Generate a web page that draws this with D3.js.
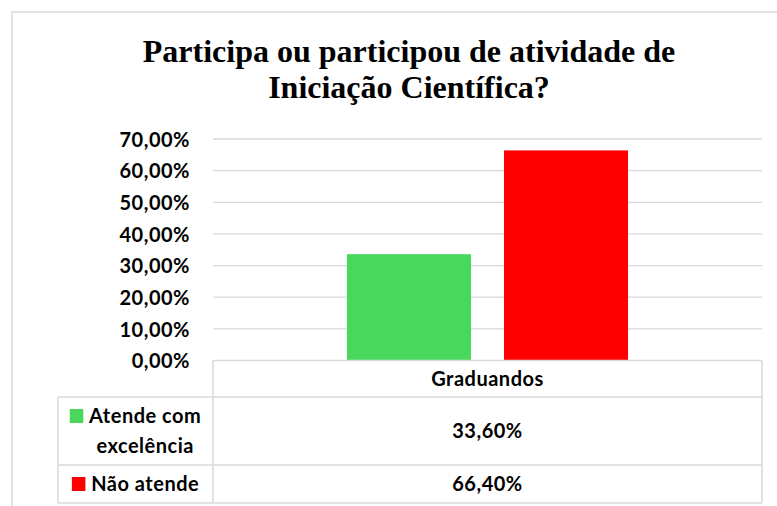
<!DOCTYPE html>
<html>
<head>
<meta charset="utf-8">
<script src="https://cdn.jsdelivr.net/npm/d3@7"></script>
<style>
  body { margin: 0; background: #fff; }
  svg { display: block; }
</style>
</head>
<body>
<div id="chart"></div>
<script>
// dados do gráfico
const categories = ['Graduandos']
const seriesNames = ['Atende com excelência', 'Não atende']
const seriesValues = [0.336, 0.664]
const seriesColors = ['#48d85c', '#ff0000']
const yTicks = [0, 0.1, 0.2, 0.3, 0.4, 0.5, 0.6, 0.7]
const titleLines = ['Participa ou participou de atividade de', 'Iniciação Científica?']

const width = 777
const height = 506
const margin = { top: 139, right: 15, bottom: 145.5, left: 213 }
const tableLeft = 58
const rowH = [36.5, 68, 38]
const grid = '#d9d9d9'
const font = 'Lato, "Noto Sans", sans-serif'
const fs = 20
const ls = 0.5

const pt = d3.formatLocale({ decimal: ',', thousands: '.', grouping: [3], currency: ['R$', ''] })
const fmt = pt.format('.2%')

const svg = d3.select('#chart').append('svg')
  .attr('width', width)
  .attr('height', height)
  .attr('viewBox', [0, 0, width, height])

// borda externa do gráfico (continua além da janela)
svg.append('rect')
  .attr('x', 12).attr('y', 12)
  .attr('width', 820).attr('height', 520)
  .attr('fill', '#fff')
  .attr('stroke', grid)
  .attr('stroke-width', 1.5)

svg.append('g')
  .selectAll('text')
  .data(titleLines)
  .join('text')
  .attr('x', 409)
  .attr('y', (d, i) => 61.5 + i * 36.5)
  .attr('text-anchor', 'middle')
  .attr('font-family', '"Liberation Serif", "Times New Roman", serif')
  .attr('font-weight', 'bold')
  .attr('font-size', 32)
  .attr('fill', '#000')
  .text((d) => d)

const x0 = d3.scaleBand()
  .domain(categories)
  .range([margin.left, width - margin.right])

const x1 = d3.scaleBand()
  .domain(seriesNames)
  .range([0, x0.bandwidth()])
  .paddingInner(0.21)
  .paddingOuter(0.853)

const y = d3.scaleLinear()
  .domain([0, 0.7])
  .range([height - margin.bottom, margin.top])

const y0 = y(0)

// linhas de grade
svg.append('g')
  .selectAll('line')
  .data(yTicks.slice(1))
  .join('line')
  .attr('x1', margin.left)
  .attr('x2', width - margin.right)
  .attr('y1', (d) => y(d))
  .attr('y2', (d) => y(d))
  .attr('stroke', grid)
  .attr('stroke-width', 1.3)

// eixo y
const yAxis = d3.axisLeft(y).tickValues(yTicks).tickFormat(fmt).tickSize(0).tickPadding(23)
svg.append('g')
  .attr('transform', `translate(${margin.left},0)`)
  .call(yAxis)
  .call((g) => g.select('.domain').remove())
  .call((g) => g.selectAll('text')
    .attr('font-family', font)
    .attr('font-weight', 'bold')
    .attr('font-size', fs)
    .attr('letter-spacing', ls)
    .attr('fill', '#000')
    .attr('dy', '0.36em'))

// barras
const cat = svg.append('g')
  .selectAll('g')
  .data(categories)
  .join('g')
  .attr('transform', (d) => `translate(${x0(d)},0)`)

cat.selectAll('rect')
  .data(seriesNames.map((s, i) => ({ s, v: seriesValues[i], c: seriesColors[i] })))
  .join('rect')
  .attr('x', (d) => x1(d.s))
  .attr('width', x1.bandwidth())
  .attr('y', (d) => y(d.v))
  .attr('height', (d) => y0 - y(d.v))
  .attr('fill', (d) => d.c)

// tabela de dados
const tbl = svg.append('g')
const rowTop = [y0, y0 + rowH[0], y0 + rowH[0] + rowH[1]]
const rowBot = rowTop.map((t, i) => t + rowH[i])
const right = width - margin.right

const line = (xa, ya, xb, yb) => tbl.append('line')
  .attr('x1', xa).attr('y1', ya).attr('x2', xb).attr('y2', yb)
  .attr('stroke', grid).attr('stroke-width', 1.5)

line(margin.left, rowTop[0], right, rowTop[0])
line(margin.left, rowTop[0], margin.left, rowBot[2])
line(right, rowTop[0], right, rowBot[2])
line(tableLeft, rowTop[1], right, rowTop[1])
line(tableLeft, rowTop[2], right, rowTop[2])
line(tableLeft, rowBot[2], right, rowBot[2])
line(tableLeft, rowTop[1], tableLeft, rowBot[2])

const cellText = (txt, cx, cy) => tbl.append('text')
  .attr('x', cx).attr('y', cy)
  .attr('dy', '0.36em')
  .attr('text-anchor', 'middle')
  .attr('font-family', font)
  .attr('font-weight', 'bold')
  .attr('font-size', fs)
  .attr('letter-spacing', ls)
  .attr('fill', '#000')
  .text(txt)

categories.forEach((c) => {
  const cx = x0(c) + x0.bandwidth() / 2
  cellText(c, cx, (rowTop[0] + rowBot[0]) / 2)
  seriesValues.forEach((v, i) => {
    cellText(fmt(v), cx, (rowTop[i + 1] + rowBot[i + 1]) / 2)
  })
})

// legenda dentro da tabela (com quebra de linha)
const textCx = (tableLeft + margin.left) / 2 + 9.7
const lineH = 30
seriesNames.forEach((name, i) => {
  const words = name.split(' ')
  const lines = []
  let cur = []
  const probe = tbl.append('text')
    .attr('font-family', font).attr('font-weight', 'bold')
    .attr('font-size', fs).attr('letter-spacing', ls)
  words.forEach((w) => {
    const test = cur.concat(w).join(' ')
    probe.text(test)
    if (probe.node().getComputedTextLength() > 135 && cur.length) {
      lines.push(cur.join(' '))
      cur = [w]
    } else {
      cur.push(w)
    }
  })
  lines.push(cur.join(' '))
  probe.text(lines[0])
  const w0 = probe.node().getComputedTextLength()
  probe.remove()

  const cy = (rowTop[i + 1] + rowBot[i + 1]) / 2
  const firstY = cy - ((lines.length - 1) * lineH) / 2
  lines.forEach((l, j) => cellText(l, textCx, firstY + j * lineH))

  tbl.append('rect')
    .attr('x', textCx - w0 / 2 - 19.3)
    .attr('y', firstY - 7)
    .attr('width', 13.5)
    .attr('height', 14)
    .attr('fill', seriesColors[i])
})
</script>
</body>
</html>
